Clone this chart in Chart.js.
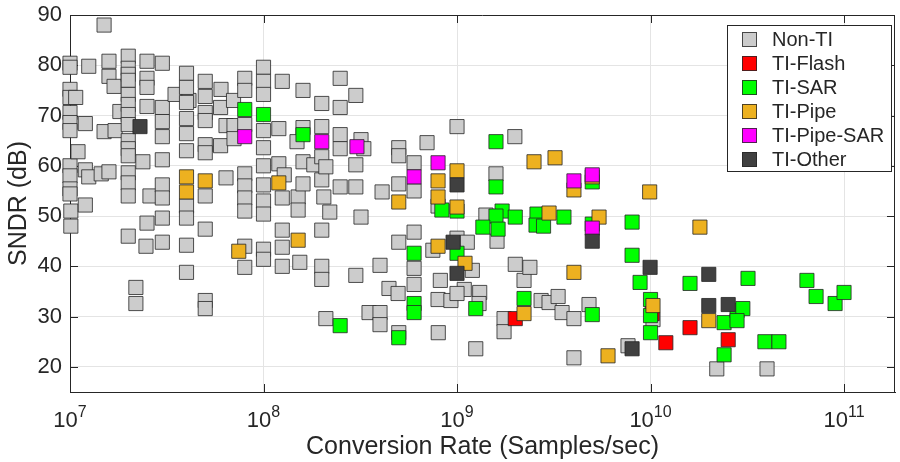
<!DOCTYPE html>
<html><head><meta charset="utf-8">
<script src="https://cdn.jsdelivr.net/npm/chart.js@4/dist/chart.umd.min.js"></script>
<style>html,body{margin:0;padding:0;background:#fff;}#wrap{width:900px;height:462px;}</style>
</head><body><div id="wrap"><canvas id="c" width="900" height="462"></canvas></div>
<script>
const seriesNames = ['Non-TI','TI-Flash','TI-SAR','TI-Pipe','TI-Pipe-SAR','TI-Other'];
const seriesColors = ['#cccccc','#ff0000','#00ff00','#edb120','#ff00ff','#404040'];
const xTicks = [1e7,1e8,1e9,1e10,1e11];
const xTickBase = '10';
const xTickExp = ['7','8','9','10','11'];
const yTicks = [20,30,40,50,60,70,80,90];

const nonTI = [
[1.0e7,80.4],[1.0e7,79.6],[1.0e7,75.2],[1.0e7,73.6],[1.0e7,70.6],[1.0e7,68.6],[1.0e7,67],[1.0e7,60],[1.0e7,58],[1.0e7,55.4],[1.0e7,54.4],[1.01e7,51],[1.01e7,48],
[1.07e7,73.6],[1.1e7,62.8],[1.2e7,68.4],[1.2e7,59.2],[1.2e7,52.2],[1.25e7,79.8],[1.25e7,57.8],[1.45e7,58.4],[1.5e7,88],[1.59e7,80.8],[1.59e7,77.8],[1.59e7,58.8],[1.69e7,75.8],[1.5e7,66.8],[1.71e7,67],[1.81e7,70.8],
[2.0e7,81.8],[2.0e7,79.4],[2.0e7,78.2],[2.0e7,77],[2.0e7,74.2],[2.0e7,72.2],[2.0e7,70.2],[2.0e7,68.2],[2.0e7,65],[2.0e7,63.4],[2.0e7,62],[2.0e7,58.6],[2.0e7,56.6],[2.0e7,54],[2.0e7,46],
[2.19e7,35.8],[2.19e7,32.6],[2.38e7,60.8],[2.47e7,44],[2.5e7,48.6],[2.5e7,80.8],[2.5e7,77.4],[2.5e7,75.6],[2.5e7,71.8],[2.59e7,54],
[3.0e7,80.4],[3.0e7,71.6],[3.0e7,68.8],[3.0e7,65.8],[3.0e7,61.2],[3.0e7,56.2],[3.0e7,53.6],[3.0e7,49.6],[3.0e7,44.8],
[3.49e7,74.2],[4.12e7,73],
[4.0e7,78.4],[4.0e7,75.6],[4.0e7,72.6],[4.0e7,69.4],[4.0e7,66.4],[4.0e7,63],[4.0e7,52],[4.0e7,49.6],[4.0e7,44.2],[4.0e7,38.8],
[5.0e7,76.8],[5.0e7,73.8],[5.0e7,70.6],[5.0e7,69],[5.0e7,64.2],[5.0e7,62.6],[5.0e7,54],[5.0e7,47.4],[5.0e7,33.2],[5.0e7,31.6],
[6.03e7,75.2],[6.0e7,71.6],[6.4e7,68],[6.0e7,64],[6.4e7,57.6],[7.04e7,68],[7.04e7,65.4],[7.0e7,73],
[8.0e7,77.4],[8.0e7,75],[8.0e7,68.2],[8.0e7,58.4],[8.0e7,56],[8.0e7,53.6],[8.0e7,51],[8.0e7,44],[8.0e7,39.8],
[1.0e8,79.6],[1.0e8,76.8],[1.0e8,74.2],[1.0e8,67],[1.0e8,63.6],[1.0e8,60],[1.0e8,56.2],[1.0e8,53],[1.0e8,50.4],[1.0e8,43.4],[1.0e8,41.4],
[1.2e8,67.4],[1.2e8,60.4],[1.25e8,76.8],[1.28e8,58.2],[1.25e8,53.6],[1.25e8,47.2],[1.25e8,43.8],[1.25e8,40],
[1.49e8,64.8],[1.51e8,53.8],[1.51e8,51.2],[1.54e8,40.8],[1.6e8,75],[1.6e8,67.6],[1.6e8,60.8],[1.6e8,56.4],[1.82e8,60.2],
[2.0e8,72.4],[2.0e8,67.8],[2.0e8,61.8],[2.0e8,57.2],[2.0e8,47.2],[2.0e8,40],[2.0e8,37.4],[2.05e8,53.8],[2.1e8,59.8],[2.1e8,29.6],[2.2e8,50.8],
[2.49e8,77.4],[2.49e8,71.6],[2.49e8,66.2],[2.49e8,63.4],[2.49e8,55.8],
[3.0e8,74],[3.0e8,60.2],[3.0e8,55.8],[3.0e8,38.2],[3.19e8,65.2],[3.3e8,63.4],[3.19e8,49.8],[3.51e8,30.8],
[4.0e8,40.2],[4.0e8,30.8],[4.0e8,28.4],[4.1e8,54.8],[4.45e8,35.6],[4.96e8,34.6],
[5.0e8,63.6],[5.0e8,62],[5.0e8,56.4],[5.0e8,44.8],[5.0e8,26.8],
[6.0e8,60.6],[6.0e8,55],[6.0e8,46.8],[6.0e8,39.6],[6.0e8,36.4],
[7.0e8,64.6],[7.5e8,43.2],[7.98e8,52],[8.2e8,37.2],[7.98e8,33.4],[8.0e8,26.8],[9.3e8,33.2],
[1.0e9,67.8],[1.0e9,45.6],[1.09e9,35.4],[1.0e9,34.6],[1.2e9,39.2],[1.13e9,44.8],[1.31e9,34.8],[1.3e9,32.6],[1.25e9,23.6],[1.41e9,50.2],[1.61e9,45],[1.59e9,58.4],[1.99e9,65.8],[1.75e9,29.6],[1.75e9,27],
[2.0e9,40.4],[2.22e9,37.2],[2.38e9,39.8],[2.72e9,33.2],[2.99e9,32.8],[3.33e9,34],[3.49e9,30.8],[4.02e9,29.6],[4.02e9,21.8],[4.81e9,32.4],[7.65e9,24.2],[1.03e10,29.4],[2.2e10,19.6],[4.0e10,19.6]
];
const tiFlash = [[2.0e9,29.6],[1.02e10,30.6],[1.2e10,24.8],[1.6e10,27.8],[2.52e10,25.4]];
const tiSAR = [
[8.0e7,71.2],[1.0e8,70.2],[1.6e8,66.2],[2.49e8,28.2],[6.0e8,42.6],[6.0e8,32.6],[6.0e8,30.8],[5.0e8,25.8],[8.35e8,51.2],[1.0e9,51],[1.0e9,42.6],[1.25e9,31.6],
[1.59e9,64.8],[1.59e9,55.8],[1.71e9,51],[1.59e9,50],[1.36e9,47.8],[1.63e9,47.4],[2.0e9,49.8],[2.59e9,50.4],[2.56e9,48.2],[2.8e9,48],[3.57e9,49.8],
[5.0e9,56.8],[5.0e9,48.4],[5.0e9,30.4],[2.22e9,33.6],[8.03e9,48.8],[8.03e9,42.2],[8.83e9,36.8],[1.0e10,33.4],[1.0e10,30.2],[1.0e10,26.8],[1.6e10,36.6],
[3.19e10,37.6],[6.43e10,37.2],[7.17e10,34],[8.99e10,32.6],[1.0e11,34.8],[2.4e10,28.8],[2.8e10,31.2],[3.0e10,31.6],[2.8e10,29.2],[2.4e10,22.4],[3.9e10,25],[4.61e10,25]
];
const tiPipe = [
[4.0e7,57.8],[4.0e7,54.8],[5.0e7,57],[7.45e7,43],[1.2e8,56.6],[1.51e8,45.2],[5.0e8,52.8],[7.98e8,57],[7.98e8,53.8],[1.0e9,59],[1.0e9,51.8],[7.98e8,44],[1.1e9,40.6],
[2.22e9,30.6],[2.5e9,60.8],[3.21e9,61.6],[4.02e9,55.2],[5.0e9,57.8],[2.99e9,50.6],[5.42e9,49.8],[9.9e9,54.8],[4.02e9,38.8],[1.03e10,32.2],[6.03e9,22.2],[1.8e10,47.8],[2.0e10,29.2]
];
const tiPipeSAR = [[8.0e7,65.8],[2.0e8,64.8],[3.04e8,63.8],[6.0e8,57.8],[7.98e8,60.6],[4.02e9,57],[5.0e9,58.2],[5.0e9,47.6]];
const tiOther = [[2.3e7,67.8],[1.0e9,56.2],[9.54e8,44.8],[1.0e9,38.6],[5.0e9,45],[9.95e9,39.8],[2.0e10,38.4],[2.0e10,32.2],[8.03e9,23.6],[2.52e10,32.4]];

const seriesData = [nonTI, tiFlash, tiSAR, tiPipe, tiPipeSAR, tiOther];
const FONT = "'Liberation Sans', Arial, Helvetica, sans-serif";
const INK = '#262626';
Chart.defaults.font.family = FONT;

const datasets = seriesData.map((arr, i) => ({
  label: seriesNames[i],
  data: arr.map(p => ({x: p[0], y: p[1]})),
  pointStyle: 'rect',
  pointRadius: 10,
  pointHoverRadius: 10,
  backgroundColor: seriesColors[i],
  borderColor: 'rgba(38,38,38,0.8)',
  borderWidth: 1,
  order: seriesData.length - i,
  clip: false
}));

const framePlugin = {
  id: 'frame',
  beforeDatasetsDraw(chart) {
    const {ctx, chartArea: a, scales} = chart;
    ctx.save();
    ctx.strokeStyle = INK; ctx.lineWidth = 1;
    ctx.beginPath();
    ctx.moveTo(a.left, a.top + 0.5); ctx.lineTo(a.right, a.top + 0.5);
    ctx.moveTo(a.right - 0.5, a.top); ctx.lineTo(a.right - 0.5, a.bottom);
    const tl = 8;
    xTicks.forEach(v => {
      const x = Math.round(scales.x.getPixelForValue(v)) + 0.5;
      ctx.moveTo(x, a.bottom); ctx.lineTo(x, a.bottom - tl);
      ctx.moveTo(x, a.top); ctx.lineTo(x, a.top + tl);
    });
    yTicks.forEach(v => {
      const y = Math.round(scales.y.getPixelForValue(v)) + 0.5;
      ctx.moveTo(a.left, y); ctx.lineTo(a.left + tl, y);
      ctx.moveTo(a.right, y); ctx.lineTo(a.right - tl, y);
    });
    ctx.stroke();
    ctx.restore();
  },
  afterDraw(chart) {
    const {ctx, chartArea: a, scales} = chart;
    ctx.save();
    ctx.fillStyle = INK;
    ctx.textAlign = 'left';
    ctx.textBaseline = 'alphabetic';
    xTicks.forEach((v, i) => {
      const x = scales.x.getPixelForValue(v);
      ctx.font = '22px ' + FONT;
      const wb = ctx.measureText(xTickBase).width;
      ctx.font = '16px ' + FONT;
      const we = ctx.measureText(xTickExp[i]).width;
      const x0 = x - (wb + we) / 2;
      ctx.font = '22px ' + FONT;
      ctx.fillText(xTickBase, x0, a.bottom + 34.5);
      ctx.font = '16px ' + FONT;
      ctx.fillText(xTickExp[i], x0 + wb, a.bottom + 24.5);
    });
    const L = 727, T = 25, R = 892, B = 172;
    ctx.fillStyle = '#ffffff';
    ctx.fillRect(L, T, R - L, B - T);
    ctx.strokeStyle = INK; ctx.lineWidth = 1;
    ctx.strokeRect(L + 0.5, T + 0.5, R - L - 1, B - T - 1);
    ctx.font = '20px ' + FONT;
    ctx.textBaseline = 'middle';
    chart.data.datasets.forEach((ds, i) => {
      const cy = 39 + i * 24;
      ctx.fillStyle = ds.backgroundColor;
      ctx.fillRect(742, cy - 7, 15, 15);
      ctx.strokeStyle = 'rgba(38,38,38,0.8)';
      ctx.strokeRect(742.5, cy - 6.5, 14, 14);
      ctx.fillStyle = INK;
      ctx.fillText(ds.label, 772, cy + 1);
    });
    ctx.restore();
  }
};

new Chart(document.getElementById('c'), {
  type: 'scatter',
  data: {datasets},
  options: {
    responsive: false,
    animation: false,
    devicePixelRatio: 1,
    layout: {autoPadding: false, padding: {top: 15, right: 5, left: 0, bottom: 0}},
    plugins: {legend: {display: false}, tooltip: {enabled: false}},
    scales: {
      x: {
        type: 'logarithmic', min: 1e7, max: 1.834e11,
        afterBuildTicks: s => { s.ticks = xTicks.map(v => ({value: v})); },
        afterFit: s => { s.height = 70; s.paddingLeft = 0; s.paddingRight = 0; },
        ticks: {display: false},
        grid: {color: '#e4e4e4', drawTicks: false},
        border: {display: true, color: INK, width: 1},
        title: {display: true, text: 'Conversion Rate (Samples/sec)', color: INK, font: {size: 25}, padding: {top: 0, bottom: 0}}
      },
      y: {
        type: 'linear', min: 15, max: 90,
        afterBuildTicks: s => { s.ticks = yTicks.map(v => ({value: v})); },
        afterFit: s => { s.width = 70; s.paddingTop = 0; s.paddingBottom = 0; },
        ticks: {color: INK, font: {size: 22}, padding: 8},
        grid: {color: '#e4e4e4', drawTicks: false},
        border: {display: true, color: INK, width: 1},
        title: {display: true, text: 'SNDR (dB)', color: INK, font: {size: 25}, padding: {top: 4, bottom: 0}}
      }
    }
  },
  plugins: [framePlugin]
});
</script></body></html>
